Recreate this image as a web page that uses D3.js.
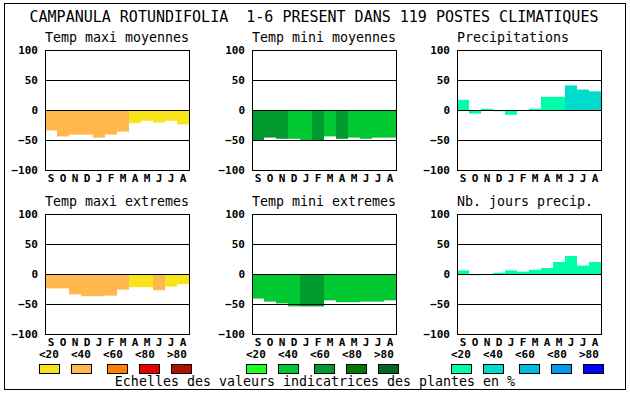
<!DOCTYPE html>
<html><head><meta charset="utf-8">
<script src="https://cdn.jsdelivr.net/npm/d3@7"></script>
<style>
html,body{margin:0;padding:0;background:#fff;}
svg{display:block;}
text{white-space:pre;}
</style></head>
<body>
<svg id="chart" width="630" height="394"></svg>
<script>
// ---- DATA ----
const months = ["S","O","N","D","J","F","M","A","M","J","J","A"];
const tickValues = [-100, -50, 0, 50, 100];
const titleText = "CAMPANULA ROTUNDIFOLIA  1-6 PRESENT DANS 119 POSTES CLIMATIQUES";
const panelTitles = ["Temp maxi moyennes","Temp mini moyennes","Precipitations",
                     "Temp maxi extremes","Temp mini extremes","Nb. jours precip."];
const tmaxMoy = [-34,-44,-41,-41,-46,-41,-36,-22,-18,-21,-18,-24];
const tmaxMoyLevel = [1,1,1,1,1,1,1,0,0,0,0,0];
const tminMoy = [-50,-46,-48,-48,-50,-50,-44,-48,-46,-48,-46,-46];
const tminMoyLevel = [2,2,2,1,1,2,1,2,1,1,1,1];
const precip = [17,-6,2,-2,-8,0,2,22,22,41,34,31];
const precipLevel = [0,0,0,0,0,0,0,0,0,1,1,1];
const tmaxExt = [-24,-24,-34,-37,-37,-36,-26,-22,-22,-27,-21,-17];
const tmaxExtLevel = [1,1,1,1,1,1,1,0,0,1,0,0];
const tminExt = [-41,-46,-49,-54,-54,-54,-44,-47,-47,-46,-46,-44];
const tminExtLevel = [1,1,1,1,2,2,1,1,1,1,1,1];
const nbJours = [6,-2,0,2,6,4,7,10,20,30,14,20];
const nbJoursLevel = [0,0,0,0,0,0,0,0,0,0,0,0];
const legendLabels = ["<20","<40","<60","<80",">80"];
const legendNote = "Echelles des valeurs indicatrices des plantes en %";

// ---- STYLE / LAYOUT ----
const tempColors = ["#f8e41c","#ffb84c","#ff8000","#e80000","#b01000"];
const coldColors = ["#1eff1e","#00c832","#009a2e","#007a00","#006622"];
const waterColors = ["#00ffaa","#00dccc","#00bbdd","#0099ee","#0000ff"];
const panelX = [45, 252, 457];
const rowY = [50, 214];
const PW = 144, PH = 120;
const mono = "'DejaVu Sans Mono', monospace";

const panels = [
  {values: tmaxMoy, level: tmaxMoyLevel, colors: tempColors, col: 0, row: 0},
  {values: tminMoy, level: tminMoyLevel, colors: coldColors, col: 1, row: 0},
  {values: precip, level: precipLevel, colors: waterColors, col: 2, row: 0},
  {values: tmaxExt, level: tmaxExtLevel, colors: tempColors, col: 0, row: 1},
  {values: tminExt, level: tminExtLevel, colors: coldColors, col: 1, row: 1},
  {values: nbJours, level: nbJoursLevel, colors: waterColors, col: 2, row: 1},
];

const svg = d3.select("#chart");
svg.append("rect").attr("x",4.5).attr("y",3.5).attr("width",621).attr("height",386)
  .attr("fill","#fff").attr("stroke","#000").attr("stroke-width",1);

svg.append("text").attr("x",314).attr("y",22).attr("text-anchor","middle")
  .attr("font-family",mono).attr("font-size",15).attr("fill","#000").text(titleText);

panels.forEach((p, pi) => {
  const x0 = panelX[p.col], y0 = rowY[p.row];
  const g = svg.append("g").attr("transform",`translate(${x0},${y0})`);
  const x = d3.scaleBand().domain(d3.range(months.length)).range([0, PW]).padding(0);
  const y = d3.scaleLinear().domain([-100, 100]).range([PH, 0]);

  g.append("text").attr("x",0).attr("y",-8)
    .attr("font-family",mono).attr("font-size",13.3).attr("fill","#000").text(panelTitles[pi]);

  g.selectAll("rect.bar").data(p.values).enter().append("rect").attr("class","bar")
    .attr("x",(d,i)=>x(i)).attr("width",x.bandwidth())
    .attr("y",d=>y(Math.max(0,d))).attr("height",d=>Math.abs(y(d)-y(0)))
    .attr("fill",(d,i)=>p.colors[p.level[i]]);

  g.selectAll("line.grid").data([50,0,-50]).enter().append("line").attr("class","grid")
    .attr("x1",0).attr("x2",PW).attr("y1",d=>Math.round(y(d))+0.5).attr("y2",d=>Math.round(y(d))+0.5)
    .attr("stroke","#000").attr("stroke-width",1);

  g.append("rect").attr("x",0.5).attr("y",0.5).attr("width",PW).attr("height",PH)
    .attr("fill","none").attr("stroke","#000").attr("stroke-width",1);

  const ya = g.append("g").attr("transform","translate(-7,0)")
    .call(d3.axisLeft(y).tickValues(tickValues).tickSize(0).tickPadding(0).tickFormat(d3.format("d")));
  ya.select(".domain").remove();
  ya.selectAll("text").attr("font-family",mono).attr("font-size",11).attr("font-weight","bold")
    .attr("fill","#000").attr("dy","0.36em");

  const xa = g.append("g").attr("transform",`translate(0,${PH})`)
    .call(d3.axisBottom(x).tickSize(0).tickPadding(4).tickFormat(i=>months[i]));
  xa.select(".domain").remove();
  xa.selectAll("text").attr("font-family",mono).attr("font-size",11).attr("font-weight","bold")
    .attr("fill","#000");
});

const labelOff = [0,32,64,96,128];
const boxOff = [0,32,68,100,132];
const groupColors = [tempColors, coldColors, waterColors];
panelX.forEach((px, gi) => {
  const g = svg.append("g");
  g.selectAll("text").data(legendLabels).enter().append("text")
    .attr("x",(d,i)=>px-6+labelOff[i]).attr("y",358)
    .attr("font-family",mono).attr("font-size",11).attr("font-weight","bold").attr("fill","#000")
    .text(d=>d);
  g.selectAll("rect").data(groupColors[gi]).enter().append("rect")
    .attr("x",(d,i)=>px-5.5+boxOff[i]).attr("y",364.5).attr("width",20).attr("height",9)
    .attr("fill",d=>d).attr("stroke","#000").attr("stroke-width",1);
});

svg.append("text").attr("x",315).attr("y",386).attr("text-anchor","middle")
  .attr("font-family",mono).attr("font-size",13.3).attr("fill","#000").text(legendNote);
</script>
</body></html>
